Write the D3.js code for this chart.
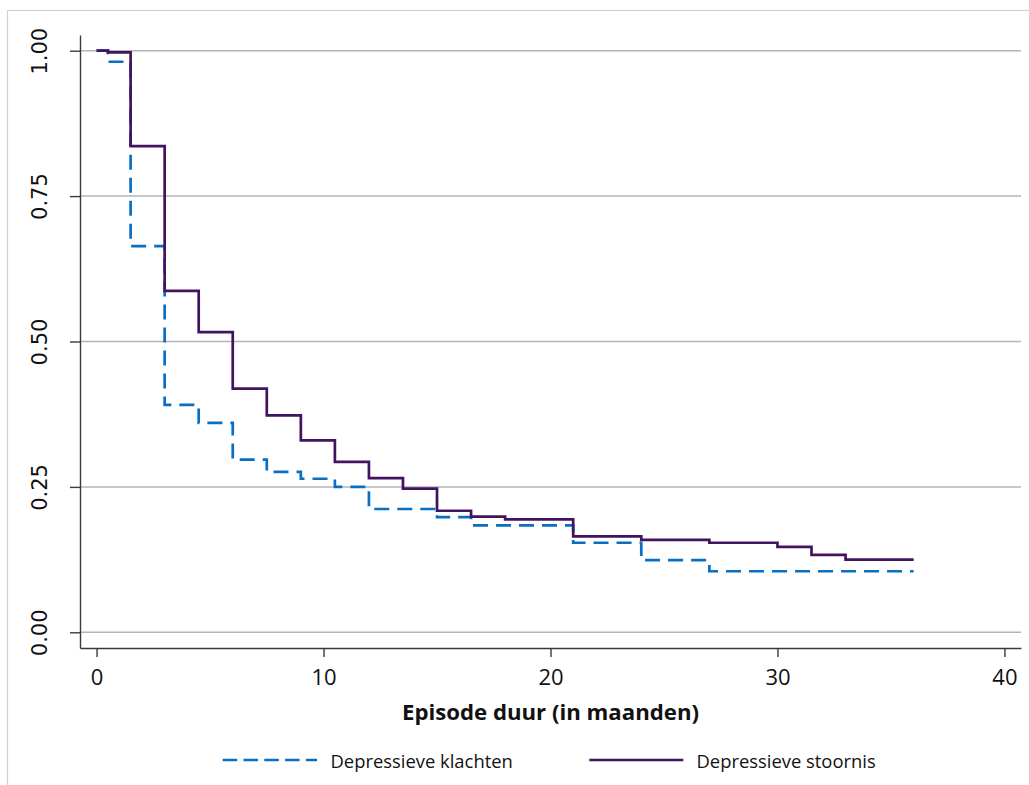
<!DOCTYPE html>
<html>
<head>
<meta charset="utf-8">
<script src="https://cdn.jsdelivr.net/npm/d3@7"></script>
<style>
  html, body { margin: 0; padding: 0; background: #fff; }
  svg { display: block; }
</style>
</head>
<body>
<svg id="chart" width="1029" height="785"></svg>
<script>
// ---- Data ----
const timesKlachten = [0, 0.5, 1.5, 3, 4.5, 6, 7.5, 9, 10.5, 12, 15, 16.5, 21, 24, 27, 36];
const survKlachten  = [1.000, 0.981, 0.664, 0.391, 0.360, 0.297, 0.276, 0.264, 0.250, 0.212, 0.198, 0.184, 0.154, 0.124, 0.105, 0.105];

const timesStoornis = [0, 0.5, 1.5, 3, 4.5, 6, 7.5, 9, 10.5, 12, 13.5, 15, 16.5, 18, 21, 24, 27, 30, 31.5, 33, 36];
const survStoornis  = [1.000, 0.997, 0.836, 0.587, 0.516, 0.419, 0.373, 0.330, 0.293, 0.265, 0.247, 0.209, 0.199, 0.194, 0.165, 0.159, 0.154, 0.147, 0.133, 0.125, 0.125];

const xTicks = [0, 10, 20, 30, 40];
const yTicks = [0, 0.25, 0.5, 0.75, 1];
const xTitle = "Episode duur (in maanden)";
const seriesNames = ["Depressieve klachten", "Depressieve stoornis"];
const seriesColors = ["#0a6fc2", "#42145f"];

// ---- Layout ----
const svg = d3.select("#chart");
const plotLeft = 80, plotRight = 1021, plotTop = 35, plotBottom = 648;

const x = d3.scaleLinear().domain([-0.73, 40.73]).range([plotLeft, plotRight]);
const y = d3.scaleLinear().domain([-0.027, 1.027]).range([plotBottom, plotTop]);

// outer frame
svg.append("rect")
  .attr("x", 7.5).attr("y", 10.5)
  .attr("width", 1200).attr("height", 1000)
  .attr("fill", "none").attr("stroke", "#d2d2d2").attr("stroke-width", 1.2);

// gridlines
svg.append("g").selectAll("line").data(yTicks).join("line")
  .attr("x1", plotLeft).attr("x2", plotRight)
  .attr("y1", d => y(d)).attr("y2", d => y(d))
  .attr("stroke", "#b4b4b4").attr("stroke-width", 1.5);

// y axis
const yAxis = svg.append("g")
  .attr("transform", `translate(${plotLeft},0)`)
  .call(d3.axisLeft(y).tickValues(yTicks).tickFormat(d3.format(".2f")).tickSize(10).tickSizeOuter(0));
yAxis.select(".domain").attr("stroke", "#3a3a3a").attr("stroke-width", 1.4);
yAxis.selectAll(".tick line").attr("stroke", "#3a3a3a").attr("stroke-width", 1.4);
yAxis.selectAll(".tick text")
  .attr("transform", "rotate(-90)")
  .attr("x", 0).attr("y", -33).attr("dy", 0)
  .attr("text-anchor", "middle")
  .attr("fill", "#111")
  .style("font-family", "'DejaVu Sans', sans-serif")
  .style("font-size", "21px");

// x axis
const xAxis = svg.append("g")
  .attr("transform", `translate(0,${plotBottom})`)
  .call(d3.axisBottom(x).tickValues(xTicks).tickFormat(d3.format("d")).tickSize(9).tickSizeOuter(0));
xAxis.select(".domain").attr("stroke", "#3a3a3a").attr("stroke-width", 1.4);
xAxis.selectAll(".tick line").attr("stroke", "#3a3a3a").attr("stroke-width", 1.4);
xAxis.selectAll(".tick text")
  .attr("y", 37).attr("dy", 0)
  .attr("fill", "#111")
  .style("font-family", "'Open Sans', sans-serif")
  .style("font-size", "22px");

// x title
svg.append("text")
  .attr("x", (plotLeft + plotRight) / 2).attr("y", 720)
  .attr("text-anchor", "middle")
  .attr("fill", "#111")
  .style("font-family", "'Open Sans', sans-serif")
  .style("font-weight", "bold")
  .style("font-size", "22.2px")
  .text(xTitle);

// step lines
const line = d3.line().x(d => x(d[0])).y(d => y(d[1])).curve(d3.curveStepAfter);
const dataK = timesKlachten.map((t, i) => [t, survKlachten[i]]);
const dataS = timesStoornis.map((t, i) => [t, survStoornis[i]]);

svg.append("path").datum(dataK)
  .attr("d", line).attr("fill", "none")
  .attr("stroke", seriesColors[0]).attr("stroke-width", 2.7)
  .attr("stroke-dasharray", "15,8");
svg.append("path").datum(dataS)
  .attr("d", line).attr("fill", "none")
  .attr("stroke", seriesColors[1]).attr("stroke-width", 2.7);

// legend
const legY = 760;
const leg = [
  {x1: 222.7, x2: 317, tx: 330.5, dash: "14.5,6.3"},
  {x1: 589.3, x2: 683.3, tx: 696.5, dash: null}
];
leg.forEach((l, i) => {
  const ln = svg.append("line")
    .attr("x1", l.x1).attr("x2", l.x2).attr("y1", legY).attr("y2", legY)
    .attr("stroke", seriesColors[i]).attr("stroke-width", 2.7);
  if (l.dash) ln.attr("stroke-dasharray", l.dash);
  svg.append("text")
    .attr("x", l.tx).attr("y", legY + 7.5)
    .attr("fill", "#111")
    .style("font-family", "'Open Sans', sans-serif")
    .style("font-size", "18.4px")
    .text(seriesNames[i]);
});
</script>
</body>
</html>
